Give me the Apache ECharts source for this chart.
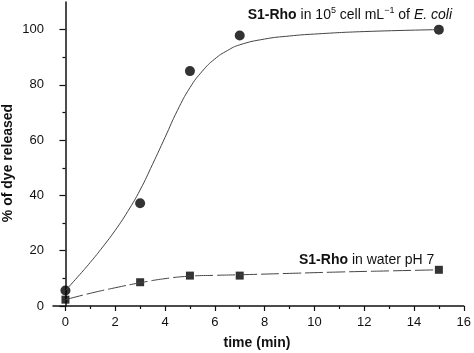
<!DOCTYPE html>
<html>
<head>
<meta charset="utf-8">
<script src="https://cdn.jsdelivr.net/npm/echarts@6/dist/echarts.min.js"></script>
<style>
html,body{margin:0;padding:0;background:#fff;}
#chart{width:474px;height:353px;}
</style>
</head>
<body>
<div id="chart"></div>
<script>
// measured points
var timeMin = [0, 3, 5, 7, 15];
var ecoliRelease = [5.6, 37.2, 85, 97.9, 100];
var waterRelease = [2.3, 8.6, 11, 11, 13.1];
// fitted curves
var ecoliFitX = [0, 0.5, 1, 1.5, 2, 2.5, 3, 3.5, 4, 4.5, 5, 5.5, 6, 6.5, 7, 8, 9, 10, 12, 15];
var ecoliFitY = [5.6, 10.6, 15.8, 21.4, 27.4, 34.2, 42, 51.3, 61, 70.8, 79, 85, 89.4, 92.4, 94.5, 96.6, 97.7, 98.4, 99.3, 100];
var waterFitX = [0, 1, 2, 3, 4, 5, 6, 7, 9, 11, 13, 15];
var waterFitY = [2.3, 4.6, 6.6, 8.4, 9.9, 10.8, 11.1, 11.3, 11.8, 12.3, 12.7, 13.1];
var xMajor = [0, 2, 4, 6, 8, 10, 12, 14, 16];
var xMinor = [1, 3, 5, 7, 9, 11, 13, 15];
var yMajor = [0, 20, 40, 60, 80, 100];
var yMinor = [10, 30, 50, 70, 90];
var yTitle = '% of dye released';
var xTitle = 'time (min)';

function pairs(xs, ys){ return xs.map(function(x,i){ return [x, ys[i]]; }); }

var FONT = '"Liberation Sans", Arial, sans-serif';
var chart = echarts.init(document.getElementById('chart'), null, {renderer:'canvas'});
var axisLineStyle = {color:'#111', width:1.5};
var grid = {left:53, right:7, top:2, bottom:47};

chart.setOption({
  animation:false,
  backgroundColor:'#fff',
  grid: grid,
  xAxis: [{
    type:'value', min:-0.5, max:16,
    axisLine:{show:true, lineStyle:axisLineStyle},
    axisTick:{show:true, inside:false, length:5, customValues:xMajor, lineStyle:{color:'#111', width:1.2}},
    axisLabel:{show:true, customValues:xMajor, margin:10, fontSize:13, color:'#111', fontFamily:FONT},
    splitLine:{show:false}
  },{
    type:'value', min:-0.5, max:16, position:'bottom',
    axisLine:{show:false},
    axisTick:{show:true, inside:false, length:3, customValues:xMinor, lineStyle:{color:'#111', width:1.2}},
    axisLabel:{show:false},
    splitLine:{show:false}
  }],
  yAxis: [{
    type:'value', min:0, max:110,
    axisLine:{show:true, lineStyle:axisLineStyle},
    axisTick:{show:true, inside:false, length:6, customValues:yMajor, lineStyle:{color:'#111', width:1.2}},
    axisLabel:{show:true, customValues:yMajor, margin:9, fontSize:13, color:'#111', fontFamily:FONT},
    splitLine:{show:false}
  },{
    type:'value', min:0, max:110, position:'left',
    axisLine:{show:false},
    axisTick:{show:true, inside:false, length:3, customValues:yMinor, lineStyle:{color:'#111', width:1.2}},
    axisLabel:{show:false},
    splitLine:{show:false}
  }],
  series: [
    {type:'line', xAxisIndex:0, yAxisIndex:0, data:pairs(ecoliFitX, ecoliFitY), smooth:0.5, showSymbol:false, symbol:'none',
     lineStyle:{color:'#444', width:1}},
    {type:'line', xAxisIndex:0, yAxisIndex:0, data:pairs(waterFitX, waterFitY), smooth:0.5, showSymbol:false, symbol:'none',
     lineStyle:{color:'#444', width:1, type:[18,4]}},
    {type:'scatter', xAxisIndex:0, yAxisIndex:0, data:pairs(timeMin, ecoliRelease), symbol:'circle', symbolSize:10,
     itemStyle:{color:'#000'}},
    {type:'scatter', xAxisIndex:0, yAxisIndex:0, data:pairs(timeMin, waterRelease), symbol:'rect', symbolSize:8,
     itemStyle:{color:'#000'}}
  ],
  graphic: [
    {type:'text', x:8, y:163, rotation:Math.PI/2,
     style:{text:yTitle, fontFamily:FONT, fontSize:14, fontWeight:'bold', fill:'#111', textAlign:'center', textVerticalAlign:'middle'}},
    {type:'text', x:257, y:343,
     style:{text:xTitle, fontFamily:FONT, fontSize:14, fontWeight:'bold', fill:'#111', textAlign:'center', textVerticalAlign:'middle'}},
    {type:'text', x:452, y:15,
     style:{
       text:'{b|S1-Rho}{n| in 10}{s|5}{n| cell mL}{s|−1}{n| of }{i|E. coli}',
       textVerticalAlign:'middle', textAlign:'right',
       rich:{
         b:{fontFamily:FONT, fontSize:14, fontWeight:'bold', fill:'#111', lineHeight:17},
         n:{fontFamily:FONT, fontSize:14, fill:'#111', lineHeight:17},
         i:{fontFamily:FONT, fontSize:14, fontStyle:'italic', fill:'#111', lineHeight:17},
         s:{fontFamily:FONT, fontSize:9, fill:'#111', lineHeight:17, verticalAlign:'top'}
       }
     }},
    {type:'text', x:299, y:260,
     style:{
       text:'{b|S1-Rho}{n| in water pH 7}',
       textVerticalAlign:'middle', textAlign:'left',
       rich:{
         b:{fontFamily:FONT, fontSize:14, fontWeight:'bold', fill:'#111'},
         n:{fontFamily:FONT, fontSize:14, fill:'#111'}
       }
     }}
  ]
});
</script>
</body>
</html>
